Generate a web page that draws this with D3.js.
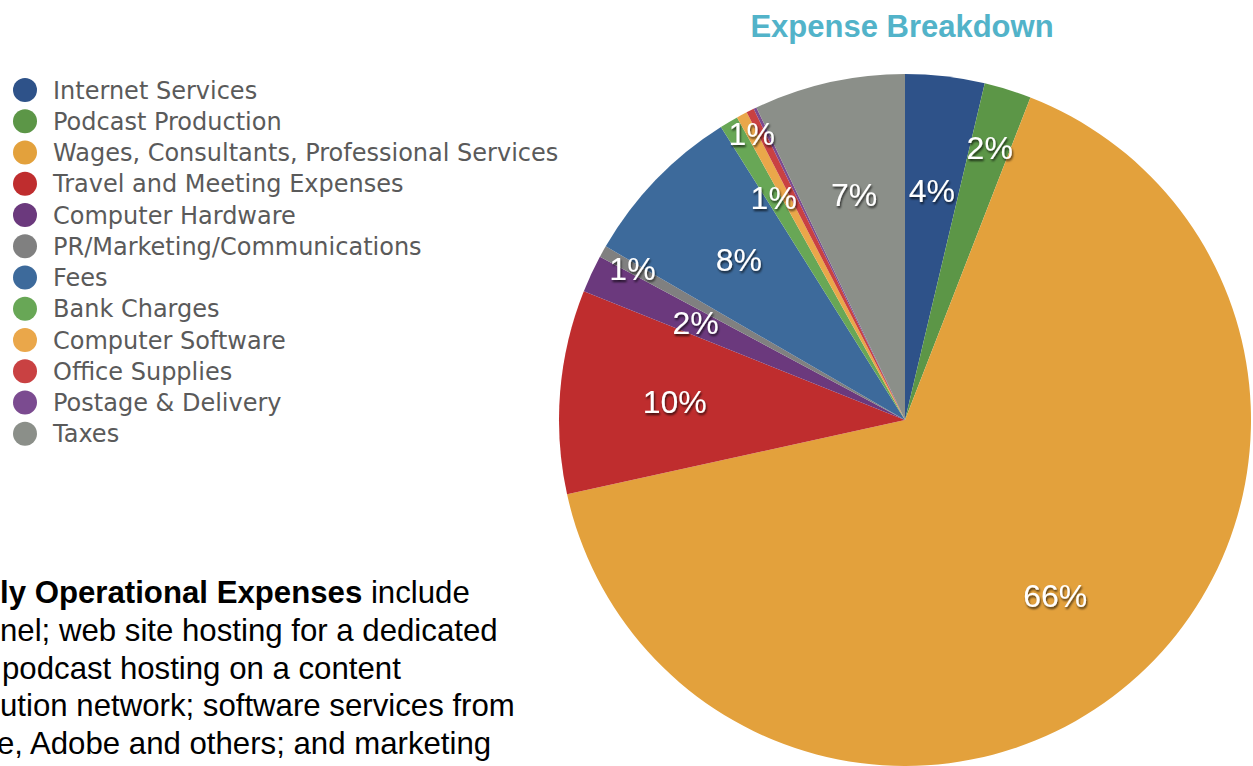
<!DOCTYPE html>
<html>
<head>
<meta charset="utf-8">
<script src="https://cdn.jsdelivr.net/npm/d3@7"></script>
<style>
  body { margin: 0; background: #fff; overflow: hidden; }
  svg { display: block; }
</style>
</head>
<body>
<div id="chart"></div>
<script>
// expense breakdown pie

const categories = [
  "Internet Services", "Podcast Production", "Wages, Consultants, Professional Services",
  "Travel and Meeting Expenses", "Computer Hardware", "PR/Marketing/Communications",
  "Fees", "Bank Charges", "Computer Software", "Office Supplies",
  "Postage & Delivery", "Taxes"
];
const shares = [3.7, 2.2, 65.6, 9.5, 1.75, 0.55, 7.7, 0.86, 0.5, 0.36, 0.14, 7.06];
const colors = [
  "#2e5289", "#5c9647", "#e3a13c", "#bf2d2e", "#6b397d", "#808080",
  "#3d6a9b", "#68a756", "#eaa74a", "#c94142", "#7b4b90", "#8b8f89"
];
const notes = [
  { bold: "ly Operational Expenses", rest: " include" },
  { bold: "", rest: "nel; web site hosting for a dedicated" },
  { bold: "", rest: " podcast hosting on a content" },
  { bold: "", rest: "ution network; software services from" },
  { bold: "", rest: "e, Adobe and others; and marketing" }
];

const width = 1253, height = 766;
const cx = 905, cy = 420, radius = 346;

// labels of thin slices sit further out so they don't collide
const labelR = { 1: 285, 5: 312, 7: 258, 8: 325 };

const svg = d3.select("#chart").append("svg")
  .attr("width", width)
  .attr("height", height);

const defs = svg.append("defs");
defs.append("filter")
  .attr("id", "shadow")
  .attr("x", "-20%").attr("y", "-20%").attr("width", "140%").attr("height", "140%")
  .append("feDropShadow")
  .attr("dx", 1).attr("dy", 2).attr("stdDeviation", 1.3)
  .attr("flood-color", "#000").attr("flood-opacity", 0.7);

// title
svg.append("text")
  .attr("x", 902)
  .attr("y", 37)
  .attr("text-anchor", "middle")
  .attr("font-family", "'Liberation Sans', Arial, sans-serif")
  .attr("font-weight", "bold")
  .attr("font-size", 31)
  .attr("fill", "#52b3c9")
  .text("Expense Breakdown");

// pie
const pie = d3.pie().sort(null).value(d => d);
const arcs = pie(shares);
const arc = d3.arc().innerRadius(0).outerRadius(radius);

const g = svg.append("g").attr("transform", `translate(${cx},${cy})`);

g.selectAll("path")
  .data(arcs)
  .enter()
  .append("path")
  .attr("d", arc)
  .attr("fill", (d, i) => colors[i]);

g.selectAll("text.lbl")
  .data(arcs.filter(d => d.data >= 0.5))
  .enter()
  .append("text")
  .attr("class", "lbl")
  .attr("transform", d => {
    const r = labelR[d.index] || 231;
    const a = (d.startAngle + d.endAngle) / 2;
    return `translate(${Math.sin(a) * r},${-Math.cos(a) * r})`;
  })
  .attr("text-anchor", "middle")
  .attr("dy", "0.36em")
  .attr("font-family", "'Liberation Sans', Arial, sans-serif")
  .attr("font-size", 32)
  .attr("fill", "#fff")
  .attr("filter", "url(#shadow)")
  .text(d => Math.max(1, Math.round(d.data)) + "%");

// legend
const legend = svg.append("g")
  .selectAll("g")
  .data(categories)
  .enter()
  .append("g")
  .attr("transform", (d, i) => `translate(25,${90 + i * 31.25})`);

legend.append("circle")
  .attr("r", 12)
  .attr("fill", (d, i) => colors[i]);

legend.append("text")
  .attr("x", 28)
  .attr("dy", "0.36em")
  .attr("font-family", "'DejaVu Sans', sans-serif")
  .attr("font-size", 24)
  .attr("fill", "#5a5a5a")
  .text(d => d);

// side note, cut off at the left edge
const note = svg.append("g")
  .selectAll("text")
  .data(notes)
  .enter()
  .append("text")
  .attr("x", (d, i) => [0, 0, 2, 0, -3][i])
  .attr("y", (d, i) => 603 + i * 37.8)
  .attr("font-family", "'Liberation Sans', Arial, sans-serif")
  .attr("font-size", 31.2)
  .attr("fill", "#000");

note.append("tspan").attr("font-weight", "bold").text(d => d.bold);
note.append("tspan").text(d => d.rest);
</script>
</body>
</html>
